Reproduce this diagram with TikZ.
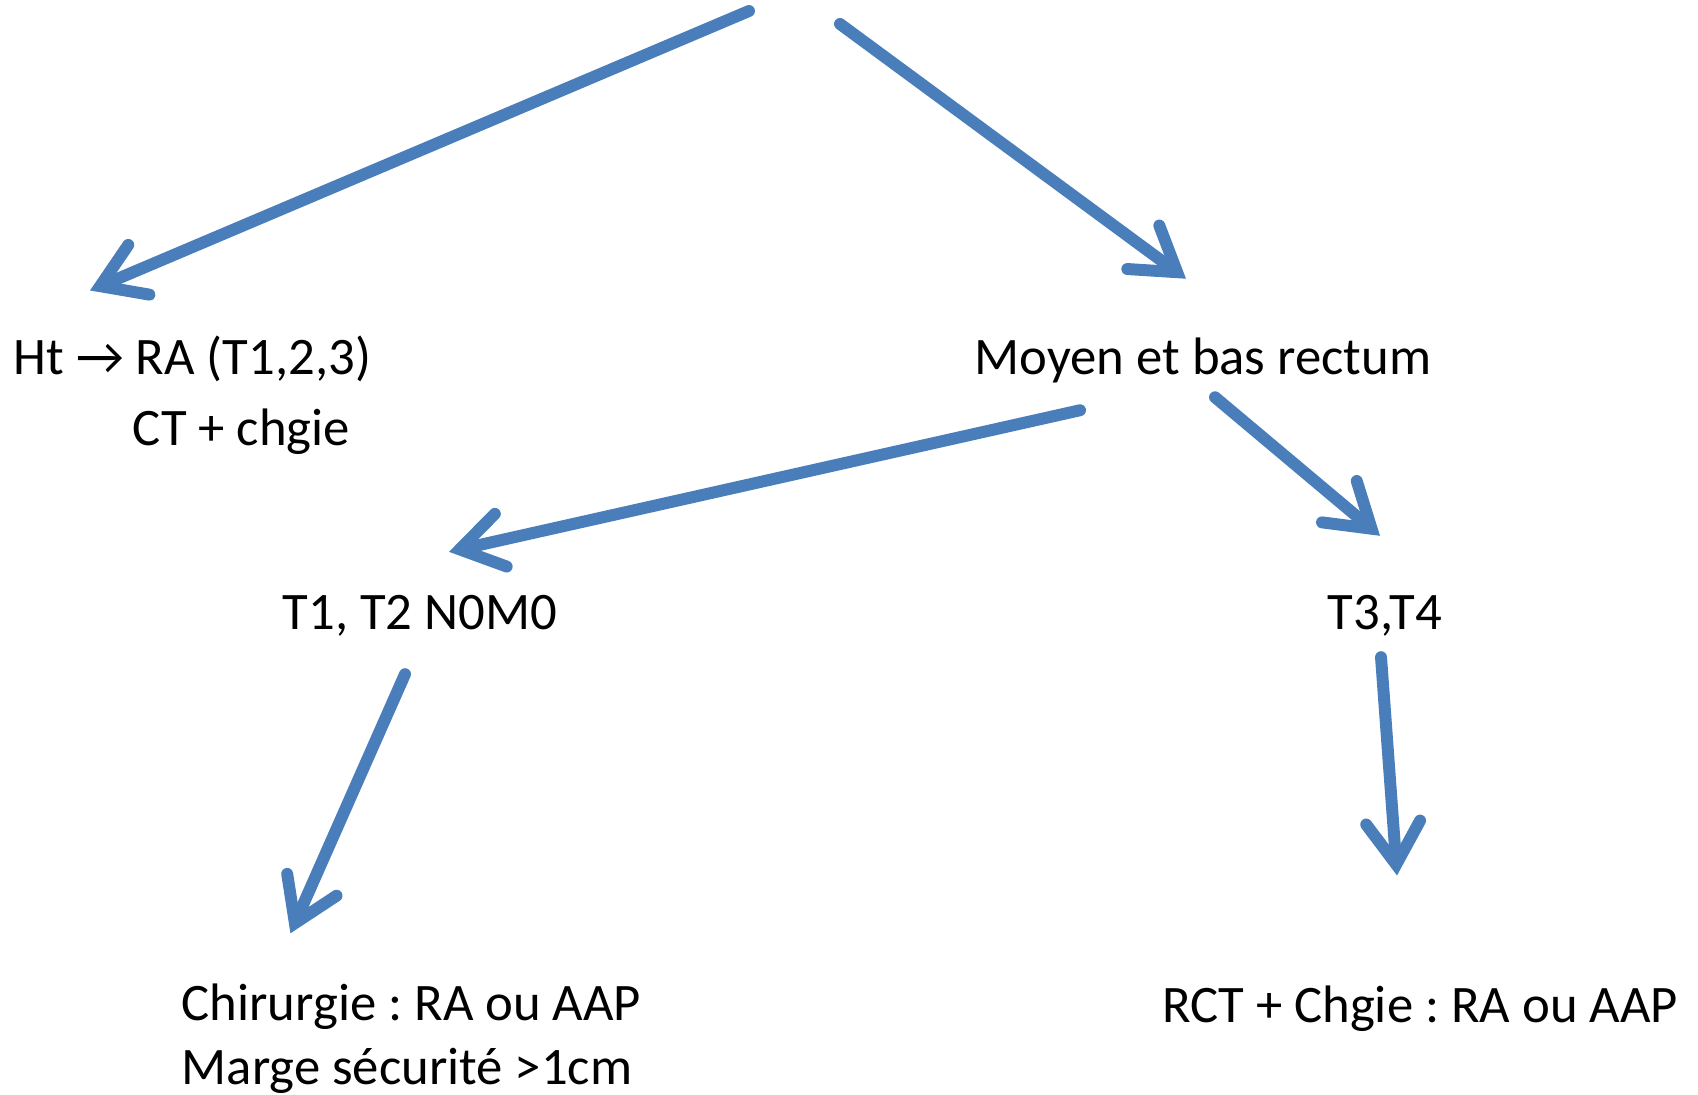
\documentclass[tikz,border=0pt]{standalone}
\usepackage{fontspec}
\setmainfont{Carlito}
\frenchspacing
\usetikzlibrary{arrows.meta,positioning}
\definecolor{arrowblue}{HTML}{4A7EBB}
\tikzset{
  label/.style={font=\fontsize{15}{18.3}\selectfont,text=black,inner sep=0pt},
  arr/.style={-{Straight Barb[length=4.2mm,width=5.4mm,line cap=round,line join=miter]},draw=arrowblue,line width=3.4pt,line cap=round}
}
\begin{document}
\begin{tikzpicture}[x=1cm,y=1cm]
\path[use as bounding box] (0,0) rectangle (16.98,10.94);
% free ends at the top
\coordinate (topL) at (7.49,10.83);
\coordinate (topR) at (8.40,10.70);

\node[label,align=left,anchor=west,font=\fontsize{15}{20.2}\selectfont] (haut) at (0.13,6.985) {Ht → RA (T1,2,3)\\\hspace*{1.19cm}CT + chgie};
\node[label] (moyen) at (12.03,7.34) {Moyen et bas rectum};
\node[label] (tdeux) at (4.20,4.78) {T1, T2 N0M0};
\node[label] (ttrois) at (13.85,4.78) {T3,T4};
\node[label,align=left,anchor=west] (chir) at (1.81,0.55) {Chirurgie : RA ou AAP\\Marge sécurité >1cm};
\node[label] (rct) at (14.20,0.85) {RCT + Chgie : RA ou AAP};

\draw[arr] (topL) -- ([xshift=0.77cm,yshift=0.45cm]haut.north west);
\draw[arr] (topR) -- ([xshift=-0.17cm,yshift=0.58cm]moyen.north);
\draw[arr] ([xshift=-1.23cm,yshift=-0.27cm]moyen.south) -- ([xshift=0.29cm,yshift=0.43cm]tdeux.north);
\draw[arr] ([xshift=0.12cm,yshift=-0.14cm]moyen.south) -- ([xshift=-0.05cm,yshift=0.59cm]ttrois.north);
\draw[arr] ([xshift=-0.15cm,yshift=-0.37cm]tdeux.south) -- ([xshift=-1.21cm,yshift=0.50cm]chir.north);
\draw[arr] ([xshift=-0.04cm,yshift=-0.20cm]ttrois.south) -- ([xshift=-0.23cm,yshift=1.10cm]rct.north);
\end{tikzpicture}
\end{document}
